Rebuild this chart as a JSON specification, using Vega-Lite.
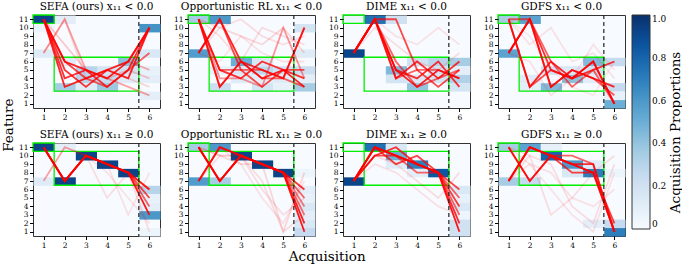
{
"$schema": "https://vega.github.io/schema/vega-lite/v6.json",
"padding": {"left": 2, "top": 1, "right": 1, "bottom": 2},
"config": {
  "font": "DejaVu Serif",
  "view": {"stroke": "#333", "strokeWidth": 1, "fill": "#f7fbff"},
  "axis": {"grid": false, "domain": false, "ticks": true, "tickColor": "#000", "tickSize": 3.5, "labelFontSize": 7.5, "labelColor": "#000", "labelPadding": 1.5, "labelOverlap": false, "labelFlush": false},
  "header": {"labelFont": "DejaVu Serif", "labelFontSize": 10.5, "labelColor": "#000", "labelPadding": 2},
  "title": {"font": "DejaVu Serif", "fontWeight": "normal", "color": "#000", "fontSize": 13.5}
},
"title": {"text": "Acquisition Proportions", "orient": "right", "anchor": "middle", "angle": -90, "baseline": "bottom", "offset": 2},
"vconcat": [{
  "title": {"text": "Acquisition", "orient": "bottom", "anchor": "middle", "offset": 1, "dx": 13},
  "vconcat": [{
    "title": {"text": "Feature", "orient": "left", "anchor": "middle", "offset": 2},
    "data": {"values": [
      {"p":"a","r":5.5},{"p":"b","r":5.5},{"p":"c","r":5.5},{"p":"d","r":5.5},{"p":"e","r":5.5},{"p":"f","r":5.5},{"p":"g","r":5.5},{"p":"h","r":5.5},
      {"p":"a","x0":0.5,"x1":1.5,"y0":10.5,"y1":11.5},{"p":"a","x0":1.5,"x1":5.5,"y0":2.5,"y1":6.5},
      {"p":"b","x0":0.5,"x1":1.5,"y0":10.5,"y1":11.5},{"p":"b","x0":1.5,"x1":5.5,"y0":2.5,"y1":6.5},
      {"p":"c","x0":0.5,"x1":1.5,"y0":10.5,"y1":11.5},{"p":"c","x0":1.5,"x1":5.5,"y0":2.5,"y1":6.5},
      {"p":"d","x0":0.5,"x1":1.5,"y0":10.5,"y1":11.5},{"p":"d","x0":1.5,"x1":5.5,"y0":2.5,"y1":6.5},
      {"p":"e","x0":0.5,"x1":1.5,"y0":10.5,"y1":11.5},{"p":"e","x0":1.5,"x1":5.5,"y0":6.5,"y1":10.5},
      {"p":"f","x0":0.5,"x1":1.5,"y0":10.5,"y1":11.5},{"p":"f","x0":1.5,"x1":5.5,"y0":6.5,"y1":10.5},
      {"p":"g","x0":0.5,"x1":1.5,"y0":10.5,"y1":11.5},{"p":"g","x0":1.5,"x1":5.5,"y0":6.5,"y1":10.5},
      {"p":"h","x0":0.5,"x1":1.5,"y0":10.5,"y1":11.5},{"p":"h","x0":1.5,"x1":5.5,"y0":6.5,"y1":10.5},

      {"p":"a","x":1,"y":11,"v":0.92},{"p":"a","x":1,"y":7,"v":0.12},{"p":"a","x":1,"y":10,"v":0.05},{"p":"a","x":2,"y":11,"v":0.1},{"p":"a","x":2,"y":3,"v":0.35},{"p":"a","x":2,"y":6,"v":0.12},{"p":"a","x":3,"y":5,"v":0.3},{"p":"a","x":3,"y":4,"v":0.3},{"p":"a","x":3,"y":3,"v":0.12},{"p":"a","x":4,"y":5,"v":0.18},{"p":"a","x":4,"y":4,"v":0.25},{"p":"a","x":4,"y":3,"v":0.38},{"p":"a","x":5,"y":6,"v":0.42},{"p":"a","x":5,"y":5,"v":0.2},{"p":"a","x":5,"y":4,"v":0.12},{"p":"a","x":6,"y":10,"v":0.62},{"p":"a","x":6,"y":7,"v":0.15},{"p":"a","x":6,"y":5,"v":0.08},{"p":"a","x":6,"y":4,"v":0.1},{"p":"a","x":6,"y":2,"v":0.1},
      {"p":"b","x":1,"y":11,"v":0.35},{"p":"b","x":1,"y":7,"v":0.58},{"p":"b","x":2,"y":11,"v":0.6},{"p":"b","x":2,"y":3,"v":0.22},{"p":"b","x":2,"y":5,"v":0.08},{"p":"b","x":3,"y":6,"v":0.5},{"p":"b","x":3,"y":5,"v":0.15},{"p":"b","x":3,"y":4,"v":0.12},{"p":"b","x":4,"y":5,"v":0.28},{"p":"b","x":4,"y":6,"v":0.15},{"p":"b","x":4,"y":3,"v":0.18},{"p":"b","x":4,"y":4,"v":0.1},{"p":"b","x":5,"y":5,"v":0.2},{"p":"b","x":5,"y":4,"v":0.12},{"p":"b","x":5,"y":3,"v":0.08},{"p":"b","x":6,"y":10,"v":0.18},{"p":"b","x":6,"y":7,"v":0.12},{"p":"b","x":6,"y":5,"v":0.22},{"p":"b","x":6,"y":4,"v":0.1},{"p":"b","x":6,"y":3,"v":0.35},
      {"p":"c","x":1,"y":7,"v":0.92},{"p":"c","x":1,"y":11,"v":0.05},{"p":"c","x":2,"y":11,"v":0.75},{"p":"c","x":3,"y":11,"v":0.2},{"p":"c","x":3,"y":5,"v":0.45},{"p":"c","x":3,"y":4,"v":0.18},{"p":"c","x":4,"y":6,"v":0.2},{"p":"c","x":4,"y":4,"v":0.15},{"p":"c","x":4,"y":3,"v":0.4},{"p":"c","x":5,"y":6,"v":0.3},{"p":"c","x":5,"y":5,"v":0.2},{"p":"c","x":5,"y":4,"v":0.18},{"p":"c","x":6,"y":6,"v":0.35},{"p":"c","x":6,"y":4,"v":0.32},{"p":"c","x":6,"y":3,"v":0.18},{"p":"c","x":6,"y":5,"v":0.1},
      {"p":"d","x":1,"y":11,"v":0.35},{"p":"d","x":1,"y":7,"v":0.55},{"p":"d","x":2,"y":11,"v":0.55},{"p":"d","x":2,"y":4,"v":0.12},{"p":"d","x":2,"y":3,"v":0.1},{"p":"d","x":3,"y":3,"v":0.45},{"p":"d","x":3,"y":5,"v":0.2},{"p":"d","x":4,"y":4,"v":0.42},{"p":"d","x":4,"y":5,"v":0.15},{"p":"d","x":5,"y":6,"v":0.45},{"p":"d","x":5,"y":5,"v":0.2},{"p":"d","x":5,"y":4,"v":0.1},{"p":"d","x":6,"y":6,"v":0.25},{"p":"d","x":6,"y":3,"v":0.25},{"p":"d","x":6,"y":1,"v":0.5},{"p":"d","x":6,"y":2,"v":0.08},
      {"p":"e","x":1,"y":11,"v":0.92},{"p":"e","x":1,"y":7,"v":0.12},{"p":"e","x":2,"y":7,"v":0.92},{"p":"e","x":2,"y":11,"v":0.1},{"p":"e","x":3,"y":10,"v":0.92},{"p":"e","x":4,"y":9,"v":0.92},{"p":"e","x":5,"y":8,"v":0.92},{"p":"e","x":6,"y":6,"v":0.3},{"p":"e","x":6,"y":5,"v":0.08},{"p":"e","x":6,"y":4,"v":0.1},{"p":"e","x":6,"y":3,"v":0.6},{"p":"e","x":6,"y":1,"v":0.05},
      {"p":"f","x":1,"y":11,"v":0.35},{"p":"f","x":1,"y":7,"v":0.58},{"p":"f","x":2,"y":11,"v":0.6},{"p":"f","x":2,"y":7,"v":0.35},{"p":"f","x":3,"y":10,"v":0.92},{"p":"f","x":4,"y":9,"v":0.92},{"p":"f","x":5,"y":8,"v":0.92},{"p":"f","x":6,"y":8,"v":0.05},{"p":"f","x":6,"y":6,"v":0.1},{"p":"f","x":6,"y":5,"v":0.08},{"p":"f","x":6,"y":4,"v":0.15},{"p":"f","x":6,"y":3,"v":0.1},{"p":"f","x":6,"y":2,"v":0.15},{"p":"f","x":6,"y":1,"v":0.25},
      {"p":"g","x":1,"y":7,"v":0.92},{"p":"g","x":2,"y":11,"v":0.75},{"p":"g","x":3,"y":10,"v":0.5},{"p":"g","x":3,"y":11,"v":0.15},{"p":"g","x":3,"y":9,"v":0.12},{"p":"g","x":4,"y":9,"v":0.7},{"p":"g","x":4,"y":8,"v":0.1},{"p":"g","x":5,"y":8,"v":0.85},{"p":"g","x":6,"y":6,"v":0.15},{"p":"g","x":6,"y":5,"v":0.08},{"p":"g","x":6,"y":4,"v":0.15},{"p":"g","x":6,"y":3,"v":0.05},{"p":"g","x":6,"y":2,"v":0.2},{"p":"g","x":6,"y":1,"v":0.2},
      {"p":"h","x":1,"y":11,"v":0.35},{"p":"h","x":1,"y":7,"v":0.35},{"p":"h","x":2,"y":11,"v":0.55},{"p":"h","x":2,"y":7,"v":0.25},{"p":"h","x":3,"y":10,"v":0.8},{"p":"h","x":3,"y":11,"v":0.08},{"p":"h","x":4,"y":9,"v":0.6},{"p":"h","x":4,"y":8,"v":0.15},{"p":"h","x":5,"y":8,"v":0.7},{"p":"h","x":5,"y":9,"v":0.12},{"p":"h","x":5,"y":2,"v":0.1},{"p":"h","x":6,"y":1,"v":0.7},{"p":"h","x":6,"y":2,"v":0.25},{"p":"h","x":6,"y":8,"v":0.05},

      {"p":"a","t":1,"x":1,"y":11,"o":0.85},{"p":"a","t":1,"x":2,"y":6,"o":0.85},{"p":"a","t":1,"x":3,"y":5,"o":0.85},{"p":"a","t":1,"x":4,"y":4,"o":0.85},{"p":"a","t":1,"x":5,"y":6,"o":0.85},{"p":"a","t":1,"x":6,"y":10,"o":0.85},
      {"p":"a","t":2,"x":1,"y":11,"o":0.85},{"p":"a","t":2,"x":2,"y":3,"o":0.85},{"p":"a","t":2,"x":3,"y":4,"o":0.85},{"p":"a","t":2,"x":4,"y":5,"o":0.85},{"p":"a","t":2,"x":5,"y":4,"o":0.85},{"p":"a","t":2,"x":6,"y":10,"o":0.85},
      {"p":"a","t":3,"x":1,"y":11,"o":0.8},{"p":"a","t":3,"x":2,"y":5,"o":0.8},{"p":"a","t":3,"x":3,"y":3,"o":0.8},{"p":"a","t":3,"x":4,"y":5,"o":0.8},{"p":"a","t":3,"x":5,"y":6,"o":0.8},{"p":"a","t":3,"x":6,"y":10,"o":0.8},
      {"p":"a","t":4,"x":1,"y":11,"o":0.8},{"p":"a","t":4,"x":2,"y":4,"o":0.8},{"p":"a","t":4,"x":3,"y":5,"o":0.8},{"p":"a","t":4,"x":4,"y":3,"o":0.8},{"p":"a","t":4,"x":5,"y":5,"o":0.8},{"p":"a","t":4,"x":6,"y":10,"o":0.8},
      {"p":"a","t":5,"x":1,"y":11,"o":0.6},{"p":"a","t":5,"x":2,"y":6,"o":0.6},{"p":"a","t":5,"x":3,"y":4,"o":0.6},{"p":"a","t":5,"x":4,"y":3,"o":0.6},{"p":"a","t":5,"x":5,"y":5,"o":0.6},{"p":"a","t":5,"x":6,"y":7,"o":0.6},
      {"p":"a","t":6,"x":1,"y":7,"o":0.35},{"p":"a","t":6,"x":2,"y":11,"o":0.35},{"p":"a","t":6,"x":3,"y":5,"o":0.35},{"p":"a","t":6,"x":4,"y":4,"o":0.35},{"p":"a","t":6,"x":5,"y":3,"o":0.35},{"p":"a","t":6,"x":6,"y":2,"o":0.35},
      {"p":"a","t":7,"x":1,"y":11,"o":0.3},{"p":"a","t":7,"x":2,"y":6,"o":0.3},{"p":"a","t":7,"x":3,"y":4,"o":0.3},{"p":"a","t":7,"x":4,"y":5,"o":0.3},{"p":"a","t":7,"x":5,"y":6,"o":0.3},{"p":"a","t":7,"x":6,"y":5,"o":0.3},
      {"p":"a","t":8,"x":1,"y":11,"o":0.2},{"p":"a","t":8,"x":2,"y":8,"o":0.2},{"p":"a","t":8,"x":3,"y":5,"o":0.2},{"p":"a","t":8,"x":4,"y":4,"o":0.2},{"p":"a","t":8,"x":5,"y":5,"o":0.2},{"p":"a","t":8,"x":6,"y":4,"o":0.2},
      {"p":"a","t":9,"x":1,"y":7,"o":0.15},{"p":"a","t":9,"x":2,"y":11,"o":0.15},{"p":"a","t":9,"x":3,"y":4,"o":0.15},{"p":"a","t":9,"x":4,"y":5,"o":0.15},{"p":"a","t":9,"x":5,"y":4,"o":0.15},{"p":"a","t":9,"x":6,"y":3,"o":0.15},

      {"p":"b","t":1,"x":1,"y":7,"o":0.85},{"p":"b","t":1,"x":2,"y":11,"o":0.85},{"p":"b","t":1,"x":3,"y":6,"o":0.85},{"p":"b","t":1,"x":4,"y":4,"o":0.85},{"p":"b","t":1,"x":5,"y":5,"o":0.85},{"p":"b","t":1,"x":6,"y":3,"o":0.85},
      {"p":"b","t":2,"x":1,"y":11,"o":0.8},{"p":"b","t":2,"x":2,"y":3,"o":0.8},{"p":"b","t":2,"x":3,"y":6,"o":0.8},{"p":"b","t":2,"x":4,"y":5,"o":0.8},{"p":"b","t":2,"x":5,"y":4,"o":0.8},{"p":"b","t":2,"x":6,"y":10,"o":0.8},
      {"p":"b","t":3,"x":1,"y":11,"o":0.8},{"p":"b","t":3,"x":2,"y":5,"o":0.8},{"p":"b","t":3,"x":3,"y":4,"o":0.8},{"p":"b","t":3,"x":4,"y":6,"o":0.8},{"p":"b","t":3,"x":5,"y":5,"o":0.8},{"p":"b","t":3,"x":6,"y":4,"o":0.8},
      {"p":"b","t":4,"x":1,"y":7,"o":0.7},{"p":"b","t":4,"x":2,"y":11,"o":0.7},{"p":"b","t":4,"x":3,"y":5,"o":0.7},{"p":"b","t":4,"x":4,"y":3,"o":0.7},{"p":"b","t":4,"x":5,"y":5,"o":0.7},{"p":"b","t":4,"x":6,"y":5,"o":0.7},
      {"p":"b","t":5,"x":1,"y":11,"o":0.6},{"p":"b","t":5,"x":2,"y":3,"o":0.6},{"p":"b","t":5,"x":3,"y":6,"o":0.6},{"p":"b","t":5,"x":4,"y":4,"o":0.6},{"p":"b","t":5,"x":5,"y":4,"o":0.6},{"p":"b","t":5,"x":6,"y":10,"o":0.6},
      {"p":"b","t":6,"x":1,"y":11,"o":0.6},{"p":"b","t":6,"x":2,"y":5,"o":0.6},{"p":"b","t":6,"x":3,"y":5,"o":0.6},{"p":"b","t":6,"x":4,"y":5,"o":0.6},{"p":"b","t":6,"x":5,"y":4,"o":0.6},{"p":"b","t":6,"x":6,"y":3,"o":0.6},
      {"p":"b","t":7,"x":1,"y":11,"o":0.4},{"p":"b","t":7,"x":2,"y":4,"o":0.4},{"p":"b","t":7,"x":3,"y":4,"o":0.4},{"p":"b","t":7,"x":4,"y":3,"o":0.4},{"p":"b","t":7,"x":5,"y":10,"o":0.4},{"p":"b","t":7,"x":6,"y":4,"o":0.4},
      {"p":"b","t":8,"x":1,"y":11,"o":0.15},{"p":"b","t":8,"x":2,"y":10,"o":0.15},{"p":"b","t":8,"x":3,"y":9,"o":0.15},{"p":"b","t":8,"x":4,"y":8,"o":0.15},{"p":"b","t":8,"x":5,"y":10,"o":0.15},{"p":"b","t":8,"x":6,"y":7,"o":0.15},
      {"p":"b","t":9,"x":1,"y":7,"o":0.12},{"p":"b","t":9,"x":2,"y":10,"o":0.12},{"p":"b","t":9,"x":3,"y":11,"o":0.12},{"p":"b","t":9,"x":4,"y":9,"o":0.12},{"p":"b","t":9,"x":5,"y":8,"o":0.12},{"p":"b","t":9,"x":6,"y":9,"o":0.12},
      {"p":"b","t":10,"x":1,"y":11,"o":0.12},{"p":"b","t":10,"x":2,"y":9,"o":0.12},{"p":"b","t":10,"x":3,"y":6,"o":0.12},{"p":"b","t":10,"x":4,"y":10,"o":0.12},{"p":"b","t":10,"x":5,"y":9,"o":0.12},{"p":"b","t":10,"x":6,"y":8,"o":0.12},
      {"p":"b","t":11,"x":1,"y":7,"o":0.1},{"p":"b","t":11,"x":2,"y":6,"o":0.1},{"p":"b","t":11,"x":3,"y":9,"o":0.1},{"p":"b","t":11,"x":4,"y":7,"o":0.1},{"p":"b","t":11,"x":5,"y":6,"o":0.1},{"p":"b","t":11,"x":6,"y":6,"o":0.1},

      {"p":"c","t":1,"x":1,"y":7,"o":0.85},{"p":"c","t":1,"x":2,"y":11,"o":0.85},{"p":"c","t":1,"x":3,"y":5,"o":0.85},{"p":"c","t":1,"x":4,"y":3,"o":0.85},{"p":"c","t":1,"x":5,"y":5,"o":0.85},{"p":"c","t":1,"x":6,"y":4,"o":0.85},
      {"p":"c","t":2,"x":1,"y":7,"o":0.8},{"p":"c","t":2,"x":2,"y":11,"o":0.8},{"p":"c","t":2,"x":3,"y":4,"o":0.8},{"p":"c","t":2,"x":4,"y":6,"o":0.8},{"p":"c","t":2,"x":5,"y":4,"o":0.8},{"p":"c","t":2,"x":6,"y":6,"o":0.8},
      {"p":"c","t":3,"x":1,"y":7,"o":0.7},{"p":"c","t":3,"x":2,"y":11,"o":0.7},{"p":"c","t":3,"x":3,"y":11,"o":0.7},{"p":"c","t":3,"x":4,"y":5,"o":0.7},{"p":"c","t":3,"x":5,"y":3,"o":0.7},{"p":"c","t":3,"x":6,"y":5,"o":0.7},
      {"p":"c","t":4,"x":1,"y":7,"o":0.8},{"p":"c","t":4,"x":2,"y":11,"o":0.8},{"p":"c","t":4,"x":3,"y":5,"o":0.8},{"p":"c","t":4,"x":4,"y":4,"o":0.8},{"p":"c","t":4,"x":5,"y":6,"o":0.8},{"p":"c","t":4,"x":6,"y":3,"o":0.8},
      {"p":"c","t":5,"x":1,"y":7,"o":0.6},{"p":"c","t":5,"x":2,"y":11,"o":0.6},{"p":"c","t":5,"x":3,"y":6,"o":0.6},{"p":"c","t":5,"x":4,"y":3,"o":0.6},{"p":"c","t":5,"x":5,"y":4,"o":0.6},{"p":"c","t":5,"x":6,"y":5,"o":0.6},
      {"p":"c","t":6,"x":1,"y":7,"o":0.6},{"p":"c","t":6,"x":2,"y":11,"o":0.6},{"p":"c","t":6,"x":3,"y":4,"o":0.6},{"p":"c","t":6,"x":4,"y":5,"o":0.6},{"p":"c","t":6,"x":5,"y":5,"o":0.6},{"p":"c","t":6,"x":6,"y":4,"o":0.6},
      {"p":"c","t":7,"x":1,"y":7,"o":0.1},{"p":"c","t":7,"x":2,"y":11,"o":0.1},{"p":"c","t":7,"x":3,"y":9,"o":0.1},{"p":"c","t":7,"x":4,"y":8,"o":0.1},{"p":"c","t":7,"x":5,"y":10,"o":0.1},{"p":"c","t":7,"x":6,"y":8,"o":0.1},
      {"p":"c","t":8,"x":1,"y":7,"o":0.12},{"p":"c","t":8,"x":2,"y":10,"o":0.12},{"p":"c","t":8,"x":3,"y":8,"o":0.12},{"p":"c","t":8,"x":4,"y":6,"o":0.12},{"p":"c","t":8,"x":5,"y":5,"o":0.12},{"p":"c","t":8,"x":6,"y":7,"o":0.12},

      {"p":"d","t":1,"x":1,"y":11,"o":0.85},{"p":"d","t":1,"x":2,"y":3,"o":0.85},{"p":"d","t":1,"x":3,"y":6,"o":0.85},{"p":"d","t":1,"x":4,"y":4,"o":0.85},{"p":"d","t":1,"x":5,"y":6,"o":0.85},{"p":"d","t":1,"x":6,"y":1,"o":0.85},
      {"p":"d","t":2,"x":1,"y":7,"o":0.85},{"p":"d","t":2,"x":2,"y":11,"o":0.85},{"p":"d","t":2,"x":3,"y":3,"o":0.85},{"p":"d","t":2,"x":4,"y":5,"o":0.85},{"p":"d","t":2,"x":5,"y":4,"o":0.85},{"p":"d","t":2,"x":6,"y":3,"o":0.85},
      {"p":"d","t":3,"x":1,"y":11,"o":0.7},{"p":"d","t":3,"x":2,"y":3,"o":0.7},{"p":"d","t":3,"x":3,"y":5,"o":0.7},{"p":"d","t":3,"x":4,"y":4,"o":0.7},{"p":"d","t":3,"x":5,"y":6,"o":0.7},{"p":"d","t":3,"x":6,"y":1,"o":0.7},
      {"p":"d","t":4,"x":1,"y":7,"o":0.8},{"p":"d","t":4,"x":2,"y":11,"o":0.8},{"p":"d","t":4,"x":3,"y":5,"o":0.8},{"p":"d","t":4,"x":4,"y":4,"o":0.8},{"p":"d","t":4,"x":5,"y":5,"o":0.8},{"p":"d","t":4,"x":6,"y":6,"o":0.8},
      {"p":"d","t":5,"x":1,"y":11,"o":0.6},{"p":"d","t":5,"x":2,"y":11,"o":0.6},{"p":"d","t":5,"x":3,"y":3,"o":0.6},{"p":"d","t":5,"x":4,"y":5,"o":0.6},{"p":"d","t":5,"x":5,"y":4,"o":0.6},{"p":"d","t":5,"x":6,"y":2,"o":0.6},
      {"p":"d","t":6,"x":1,"y":7,"o":0.6},{"p":"d","t":6,"x":2,"y":11,"o":0.6},{"p":"d","t":6,"x":3,"y":6,"o":0.6},{"p":"d","t":6,"x":4,"y":3,"o":0.6},{"p":"d","t":6,"x":5,"y":5,"o":0.6},{"p":"d","t":6,"x":6,"y":1,"o":0.6},
      {"p":"d","t":7,"x":1,"y":11,"o":0.1},{"p":"d","t":7,"x":2,"y":8,"o":0.1},{"p":"d","t":7,"x":3,"y":10,"o":0.1},{"p":"d","t":7,"x":4,"y":6,"o":0.1},{"p":"d","t":7,"x":5,"y":7,"o":0.1},{"p":"d","t":7,"x":6,"y":4,"o":0.1},
      {"p":"d","t":8,"x":1,"y":7,"o":0.1},{"p":"d","t":8,"x":2,"y":6,"o":0.1},{"p":"d","t":8,"x":3,"y":2,"o":0.1},{"p":"d","t":8,"x":4,"y":4,"o":0.1},{"p":"d","t":8,"x":5,"y":8,"o":0.1},{"p":"d","t":8,"x":6,"y":5,"o":0.1},
      {"p":"d","t":9,"x":1,"y":11,"o":0.08},{"p":"d","t":9,"x":2,"y":9,"o":0.08},{"p":"d","t":9,"x":3,"y":5,"o":0.08},{"p":"d","t":9,"x":4,"y":3,"o":0.08},{"p":"d","t":9,"x":5,"y":2,"o":0.08},{"p":"d","t":9,"x":6,"y":6,"o":0.08},

      {"p":"e","t":1,"x":1,"y":11,"o":0.9},{"p":"e","t":1,"x":2,"y":7,"o":0.9},{"p":"e","t":1,"x":3,"y":10,"o":0.9},{"p":"e","t":1,"x":4,"y":9,"o":0.9},{"p":"e","t":1,"x":5,"y":8,"o":0.9},{"p":"e","t":1,"x":6,"y":3,"o":0.9},
      {"p":"e","t":2,"x":1,"y":11,"o":0.85},{"p":"e","t":2,"x":2,"y":7,"o":0.85},{"p":"e","t":2,"x":3,"y":10,"o":0.85},{"p":"e","t":2,"x":4,"y":9,"o":0.85},{"p":"e","t":2,"x":5,"y":8,"o":0.85},{"p":"e","t":2,"x":6,"y":6,"o":0.85},
      {"p":"e","t":3,"x":1,"y":11,"o":0.7},{"p":"e","t":3,"x":2,"y":7,"o":0.7},{"p":"e","t":3,"x":3,"y":10,"o":0.7},{"p":"e","t":3,"x":4,"y":9,"o":0.7},{"p":"e","t":3,"x":5,"y":8,"o":0.7},{"p":"e","t":3,"x":6,"y":5,"o":0.7},
      {"p":"e","t":4,"x":1,"y":11,"o":0.6},{"p":"e","t":4,"x":2,"y":7,"o":0.6},{"p":"e","t":4,"x":3,"y":10,"o":0.6},{"p":"e","t":4,"x":4,"y":9,"o":0.6},{"p":"e","t":4,"x":5,"y":8,"o":0.6},{"p":"e","t":4,"x":6,"y":4,"o":0.6},
      {"p":"e","t":5,"x":1,"y":7,"o":0.35},{"p":"e","t":5,"x":2,"y":11,"o":0.35},{"p":"e","t":5,"x":3,"y":10,"o":0.35},{"p":"e","t":5,"x":4,"y":9,"o":0.35},{"p":"e","t":5,"x":5,"y":8,"o":0.35},{"p":"e","t":5,"x":6,"y":6,"o":0.35},
      {"p":"e","t":6,"x":1,"y":11,"o":0.12},{"p":"e","t":6,"x":2,"y":7,"o":0.12},{"p":"e","t":6,"x":3,"y":10,"o":0.12},{"p":"e","t":6,"x":4,"y":5,"o":0.12},{"p":"e","t":6,"x":5,"y":8,"o":0.12},{"p":"e","t":6,"x":6,"y":1,"o":0.12},
      {"p":"e","t":7,"x":1,"y":11,"o":0.1},{"p":"e","t":7,"x":2,"y":7,"o":0.1},{"p":"e","t":7,"x":3,"y":10,"o":0.1},{"p":"e","t":7,"x":4,"y":9,"o":0.1},{"p":"e","t":7,"x":5,"y":3,"o":0.1},{"p":"e","t":7,"x":6,"y":8,"o":0.1},
      {"p":"e","t":8,"x":1,"y":11,"o":0.1},{"p":"e","t":8,"x":2,"y":7,"o":0.1},{"p":"e","t":8,"x":3,"y":10,"o":0.1},{"p":"e","t":8,"x":4,"y":8,"o":0.1},{"p":"e","t":8,"x":5,"y":5,"o":0.1},{"p":"e","t":8,"x":6,"y":2,"o":0.1},

      {"p":"f","t":1,"x":1,"y":11,"o":0.9},{"p":"f","t":1,"x":2,"y":7,"o":0.9},{"p":"f","t":1,"x":3,"y":10,"o":0.9},{"p":"f","t":1,"x":4,"y":9,"o":0.9},{"p":"f","t":1,"x":5,"y":8,"o":0.9},{"p":"f","t":1,"x":6,"y":1,"o":0.9},
      {"p":"f","t":2,"x":1,"y":7,"o":0.85},{"p":"f","t":2,"x":2,"y":11,"o":0.85},{"p":"f","t":2,"x":3,"y":10,"o":0.85},{"p":"f","t":2,"x":4,"y":9,"o":0.85},{"p":"f","t":2,"x":5,"y":8,"o":0.85},{"p":"f","t":2,"x":6,"y":2,"o":0.85},
      {"p":"f","t":3,"x":1,"y":11,"o":0.8},{"p":"f","t":3,"x":2,"y":7,"o":0.8},{"p":"f","t":3,"x":3,"y":10,"o":0.8},{"p":"f","t":3,"x":4,"y":9,"o":0.8},{"p":"f","t":3,"x":5,"y":8,"o":0.8},{"p":"f","t":3,"x":6,"y":6,"o":0.8},
      {"p":"f","t":4,"x":1,"y":7,"o":0.6},{"p":"f","t":4,"x":2,"y":11,"o":0.6},{"p":"f","t":4,"x":3,"y":10,"o":0.6},{"p":"f","t":4,"x":4,"y":9,"o":0.6},{"p":"f","t":4,"x":5,"y":8,"o":0.6},{"p":"f","t":4,"x":6,"y":5,"o":0.6},
      {"p":"f","t":5,"x":1,"y":11,"o":0.55},{"p":"f","t":5,"x":2,"y":7,"o":0.55},{"p":"f","t":5,"x":3,"y":10,"o":0.55},{"p":"f","t":5,"x":4,"y":9,"o":0.55},{"p":"f","t":5,"x":5,"y":8,"o":0.55},{"p":"f","t":5,"x":6,"y":3,"o":0.55},
      {"p":"f","t":6,"x":1,"y":11,"o":0.5},{"p":"f","t":6,"x":2,"y":7,"o":0.5},{"p":"f","t":6,"x":3,"y":10,"o":0.5},{"p":"f","t":6,"x":4,"y":9,"o":0.5},{"p":"f","t":6,"x":5,"y":8,"o":0.5},{"p":"f","t":6,"x":6,"y":4,"o":0.5},
      {"p":"f","t":7,"x":1,"y":11,"o":0.15},{"p":"f","t":7,"x":2,"y":10,"o":0.15},{"p":"f","t":7,"x":3,"y":9,"o":0.15},{"p":"f","t":7,"x":4,"y":9,"o":0.15},{"p":"f","t":7,"x":5,"y":1,"o":0.15},{"p":"f","t":7,"x":6,"y":8,"o":0.15},
      {"p":"f","t":8,"x":1,"y":7,"o":0.12},{"p":"f","t":8,"x":2,"y":10,"o":0.12},{"p":"f","t":8,"x":3,"y":10,"o":0.12},{"p":"f","t":8,"x":4,"y":6,"o":0.12},{"p":"f","t":8,"x":5,"y":3,"o":0.12},{"p":"f","t":8,"x":6,"y":5,"o":0.12},
      {"p":"f","t":9,"x":1,"y":11,"o":0.12},{"p":"f","t":9,"x":2,"y":10,"o":0.12},{"p":"f","t":9,"x":3,"y":10,"o":0.12},{"p":"f","t":9,"x":4,"y":7,"o":0.12},{"p":"f","t":9,"x":5,"y":1,"o":0.12},{"p":"f","t":9,"x":6,"y":3,"o":0.12},
      {"p":"f","t":10,"x":1,"y":7,"o":0.1},{"p":"f","t":10,"x":2,"y":11,"o":0.1},{"p":"f","t":10,"x":3,"y":9,"o":0.1},{"p":"f","t":10,"x":4,"y":5,"o":0.1},{"p":"f","t":10,"x":5,"y":2,"o":0.1},{"p":"f","t":10,"x":6,"y":7,"o":0.1},

      {"p":"g","t":1,"x":1,"y":7,"o":0.9},{"p":"g","t":1,"x":2,"y":11,"o":0.9},{"p":"g","t":1,"x":3,"y":10,"o":0.9},{"p":"g","t":1,"x":4,"y":9,"o":0.9},{"p":"g","t":1,"x":5,"y":8,"o":0.9},{"p":"g","t":1,"x":6,"y":1,"o":0.9},
      {"p":"g","t":2,"x":1,"y":7,"o":0.8},{"p":"g","t":2,"x":2,"y":10,"o":0.8},{"p":"g","t":2,"x":3,"y":11,"o":0.8},{"p":"g","t":2,"x":4,"y":9,"o":0.8},{"p":"g","t":2,"x":5,"y":8,"o":0.8},{"p":"g","t":2,"x":6,"y":2,"o":0.8},
      {"p":"g","t":3,"x":1,"y":7,"o":0.75},{"p":"g","t":3,"x":2,"y":11,"o":0.75},{"p":"g","t":3,"x":3,"y":9,"o":0.75},{"p":"g","t":3,"x":4,"y":10,"o":0.75},{"p":"g","t":3,"x":5,"y":8,"o":0.75},{"p":"g","t":3,"x":6,"y":4,"o":0.75},
      {"p":"g","t":4,"x":1,"y":7,"o":0.7},{"p":"g","t":4,"x":2,"y":10,"o":0.7},{"p":"g","t":4,"x":3,"y":10,"o":0.7},{"p":"g","t":4,"x":4,"y":9,"o":0.7},{"p":"g","t":4,"x":5,"y":8,"o":0.7},{"p":"g","t":4,"x":6,"y":6,"o":0.7},
      {"p":"g","t":5,"x":1,"y":7,"o":0.6},{"p":"g","t":5,"x":2,"y":11,"o":0.6},{"p":"g","t":5,"x":3,"y":10,"o":0.6},{"p":"g","t":5,"x":4,"y":8,"o":0.6},{"p":"g","t":5,"x":5,"y":8,"o":0.6},{"p":"g","t":5,"x":6,"y":5,"o":0.6},
      {"p":"g","t":6,"x":1,"y":7,"o":0.6},{"p":"g","t":6,"x":2,"y":11,"o":0.6},{"p":"g","t":6,"x":3,"y":10,"o":0.6},{"p":"g","t":6,"x":4,"y":9,"o":0.6},{"p":"g","t":6,"x":5,"y":8,"o":0.6},{"p":"g","t":6,"x":6,"y":3,"o":0.6},
      {"p":"g","t":7,"x":1,"y":7,"o":0.12},{"p":"g","t":7,"x":2,"y":10,"o":0.12},{"p":"g","t":7,"x":3,"y":9,"o":0.12},{"p":"g","t":7,"x":4,"y":7,"o":0.12},{"p":"g","t":7,"x":5,"y":5,"o":0.12},{"p":"g","t":7,"x":6,"y":8,"o":0.12},
      {"p":"g","t":8,"x":1,"y":7,"o":0.1},{"p":"g","t":8,"x":2,"y":9,"o":0.1},{"p":"g","t":8,"x":3,"y":8,"o":0.1},{"p":"g","t":8,"x":4,"y":6,"o":0.1},{"p":"g","t":8,"x":5,"y":4,"o":0.1},{"p":"g","t":8,"x":6,"y":3,"o":0.1},

      {"p":"h","t":1,"x":1,"y":7,"o":0.85},{"p":"h","t":1,"x":2,"y":11,"o":0.85},{"p":"h","t":1,"x":3,"y":10,"o":0.85},{"p":"h","t":1,"x":4,"y":9,"o":0.85},{"p":"h","t":1,"x":5,"y":8,"o":0.85},{"p":"h","t":1,"x":6,"y":1,"o":0.85},
      {"p":"h","t":2,"x":1,"y":11,"o":0.8},{"p":"h","t":2,"x":2,"y":7,"o":0.8},{"p":"h","t":2,"x":3,"y":10,"o":0.8},{"p":"h","t":2,"x":4,"y":9,"o":0.8},{"p":"h","t":2,"x":5,"y":9,"o":0.8},{"p":"h","t":2,"x":6,"y":1,"o":0.8},
      {"p":"h","t":3,"x":1,"y":7,"o":0.75},{"p":"h","t":3,"x":2,"y":11,"o":0.75},{"p":"h","t":3,"x":3,"y":10,"o":0.75},{"p":"h","t":3,"x":4,"y":8,"o":0.75},{"p":"h","t":3,"x":5,"y":8,"o":0.75},{"p":"h","t":3,"x":6,"y":2,"o":0.75},
      {"p":"h","t":4,"x":1,"y":11,"o":0.7},{"p":"h","t":4,"x":2,"y":7,"o":0.7},{"p":"h","t":4,"x":3,"y":10,"o":0.7},{"p":"h","t":4,"x":4,"y":9,"o":0.7},{"p":"h","t":4,"x":5,"y":8,"o":0.7},{"p":"h","t":4,"x":6,"y":1,"o":0.7},
      {"p":"h","t":5,"x":1,"y":7,"o":0.6},{"p":"h","t":5,"x":2,"y":11,"o":0.6},{"p":"h","t":5,"x":3,"y":10,"o":0.6},{"p":"h","t":5,"x":4,"y":10,"o":0.6},{"p":"h","t":5,"x":5,"y":9,"o":0.6},{"p":"h","t":5,"x":6,"y":1,"o":0.6},
      {"p":"h","t":6,"x":1,"y":11,"o":0.12},{"p":"h","t":6,"x":2,"y":10,"o":0.12},{"p":"h","t":6,"x":3,"y":3,"o":0.12},{"p":"h","t":6,"x":4,"y":5,"o":0.12},{"p":"h","t":6,"x":5,"y":8,"o":0.12},{"p":"h","t":6,"x":6,"y":10,"o":0.12},
      {"p":"h","t":7,"x":1,"y":7,"o":0.12},{"p":"h","t":7,"x":2,"y":10,"o":0.12},{"p":"h","t":7,"x":3,"y":9,"o":0.12},{"p":"h","t":7,"x":4,"y":4,"o":0.12},{"p":"h","t":7,"x":5,"y":2,"o":0.12},{"p":"h","t":7,"x":6,"y":9,"o":0.12},
      {"p":"h","t":8,"x":1,"y":11,"o":0.1},{"p":"h","t":8,"x":2,"y":9,"o":0.1},{"p":"h","t":8,"x":3,"y":6,"o":0.1},{"p":"h","t":8,"x":4,"y":3,"o":0.1},{"p":"h","t":8,"x":5,"y":1,"o":0.1},{"p":"h","t":8,"x":6,"y":8,"o":0.1},
      {"p":"h","t":9,"x":1,"y":7,"o":0.1},{"p":"h","t":9,"x":2,"y":9,"o":0.1},{"p":"h","t":9,"x":3,"y":8,"o":0.1},{"p":"h","t":9,"x":4,"y":5,"o":0.1},{"p":"h","t":9,"x":5,"y":4,"o":0.1},{"p":"h","t":9,"x":6,"y":6,"o":0.1}
    ]},
    "columns": 4,
    "spacing": {"row": 8, "column": 4},
    "facet": {"field": "p", "type": "nominal", "header": {"title": null, "labelExpr": "datum.value === 'a' ? 'SEFA (ours) x₁₁ < 0.0' : datum.value === 'b' ? 'Opportunistic RL x₁₁ < 0.0' : datum.value === 'c' ? 'DIME x₁₁ < 0.0' : datum.value === 'd' ? 'GDFS x₁₁ < 0.0' : datum.value === 'e' ? 'SEFA (ours) x₁₁ ≥ 0.0' : datum.value === 'f' ? 'Opportunistic RL x₁₁ ≥ 0.0' : datum.value === 'g' ? 'DIME x₁₁ ≥ 0.0' : 'GDFS x₁₁ ≥ 0.0'"}},
    "resolve": {"axis": {"x": "independent", "y": "independent"}},
    "spec": {
      "width": 127,
      "height": 93,
      "layer": [
        {
          "transform": [{"filter": "isValid(datum.v)"}],
          "mark": {"type": "rect", "binSpacing": 0},
          "encoding": {
            "x": {"field": "x", "type": "quantitative", "bin": {"step": 1, "anchor": 0.5, "extent": [0.5, 6.5]}, "title": null, "scale": {"domain": [0.5, 6.5], "nice": false, "zero": false}, "axis": {"values": [1, 2, 3, 4, 5, 6], "format": "d"}},
            "y": {"field": "y", "type": "quantitative", "bin": {"step": 1, "anchor": 0.5, "extent": [0.5, 11.5]}, "title": null, "scale": {"domain": [0.5, 11.5], "nice": false, "zero": false}, "axis": {"values": [1, 2, 3, 4, 5, 6, 7, 8, 9, 10, 11], "format": "d"}},
            "color": {"field": "v", "type": "quantitative",
              "scale": {"domain": [0, 0.125, 0.25, 0.375, 0.5, 0.625, 0.75, 0.875, 1], "range": ["#f7fbff", "#deebf7", "#c6dbef", "#9ecae1", "#6baed6", "#4292c6", "#2171b5", "#08519c", "#08306b"]},
              "legend": {"title": null, "orient": "right", "direction": "vertical", "gradientLength": 214, "gradientThickness": 18, "values": [0, 0.2, 0.4, 0.6, 0.8, 1], "labelExpr": "datum.value == 0 ? '0' : format(datum.value, '.1f')", "labelFontSize": 9, "labelFont": "DejaVu Serif", "labelColor": "#000", "gradientStrokeColor": "#333", "gradientStrokeWidth": 1, "offset": 6, "padding": 0}}
          }
        },
        {
          "transform": [{"filter": "isValid(datum.x0)"}],
          "mark": {"type": "rect", "filled": false, "stroke": "#00ee00", "strokeWidth": 1.3},
          "encoding": {
            "x": {"field": "x0", "type": "quantitative", "title": null, "scale": {"domain": [0.5, 6.5], "nice": false, "zero": false}, "axis": {"values": [1, 2, 3, 4, 5, 6], "format": "d"}},
            "x2": {"field": "x1"},
            "y": {"field": "y0", "type": "quantitative", "title": null, "scale": {"domain": [0.5, 11.5], "nice": false, "zero": false}, "axis": {"values": [1, 2, 3, 4, 5, 6, 7, 8, 9, 10, 11], "format": "d"}},
            "y2": {"field": "y1"}
          }
        },
        {
          "transform": [{"filter": "isValid(datum.o)"}],
          "mark": {"type": "line", "color": "red", "strokeWidth": 1.8},
          "encoding": {
            "x": {"field": "x", "type": "quantitative", "title": null, "scale": {"domain": [0.5, 6.5], "nice": false, "zero": false}, "axis": {"values": [1, 2, 3, 4, 5, 6], "format": "d"}},
            "y": {"field": "y", "type": "quantitative", "title": null, "scale": {"domain": [0.5, 11.5], "nice": false, "zero": false}, "axis": {"values": [1, 2, 3, 4, 5, 6, 7, 8, 9, 10, 11], "format": "d"}},
            "detail": {"field": "t", "type": "nominal"},
            "opacity": {"field": "o", "type": "quantitative", "scale": {"domain": [0, 1], "range": [0, 1]}, "legend": null}
          }
        },
        {
          "transform": [{"filter": "isValid(datum.r)"}],
          "mark": {"type": "rule", "strokeDash": [4, 3], "color": "#222", "strokeWidth": 1.2},
          "encoding": {
            "x": {"field": "r", "type": "quantitative", "title": null, "scale": {"domain": [0.5, 6.5], "nice": false, "zero": false}, "axis": {"values": [1, 2, 3, 4, 5, 6], "format": "d"}}
          }
        }
      ]
    }
  }]
}]
}
